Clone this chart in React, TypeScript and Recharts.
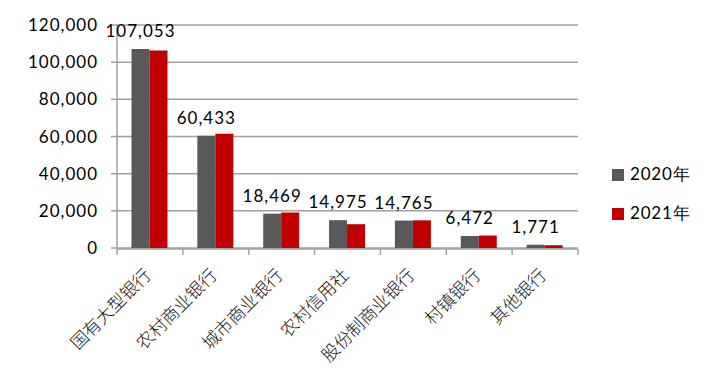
import { Bar, BarChart, CartesianGrid, LabelList, XAxis, YAxis } from "recharts";

const categories = ["国有大型银行", "农村商业银行", "城市商业银行", "农村信用社", "股份制商业银行", "村镇银行", "其他银行"];
const values2020 = [107053, 60433, 18469, 14975, 14765, 6472, 1771];
const values2021 = [106300, 61500, 19100, 12800, 14900, 6700, 1500];
const yTicks = [0, 20000, 40000, 60000, 80000, 100000, 120000];
const separatorTicks = [0, 1, 2, 3, 4, 5, 6, 7];
const seriesNames = ["2020年", "2021年"];

const data = categories.map((name, i) => ({ name, y2020: values2020[i], y2021: values2021[i], idx: i + 0.5 }));

const GRAY = "#595959";
const RED = "#C00000";
const AXIS = "#A0A0A0";
const NUM_FONT = "Lato, 'Open Sans', sans-serif";

function formatThousands(v: number): string {
  return v.toLocaleString("en-US");
}

function CategoryTick({ x, y, payload }: any) {
  const px = x - 3;
  const py = y + 23;
  return (
    <text
      x={px}
      y={py}
      transform={`rotate(-45, ${px}, ${py})`}
      textAnchor="end"
      dominantBaseline="central"
      fontFamily="'Noto Sans CJK SC', sans-serif"
      fontWeight={300}
      fontSize={17.5}
      fill="#111"
    >
      {payload.value}
    </text>
  );
}

function LegendBox() {
  const colors = [GRAY, RED];
  return (
    <div style={{ position: "absolute", left: 612, top: 155, fontFamily: NUM_FONT, fontSize: 17, color: "#000", letterSpacing: 0.8 }}>
      {seriesNames.map((label, i) => (
        <div key={label} style={{ display: "flex", alignItems: "center", height: 39 }}>
          <span style={{ display: "inline-block", width: 12, height: 12, background: colors[i], marginRight: 6 }} />
          <span>{label}</span>
        </div>
      ))}
    </div>
  );
}

export default function App() {
  return (
    <div style={{ position: "absolute", left: 0, top: 0, width: 721, height: 381, background: "#fff" }}>
      <BarChart
        width={721}
        height={381}
        data={data}
        margin={{ top: 25, right: 143, bottom: 131, left: 0 }}
        barCategoryGap="22%"
        barGap={0}
      >
        <CartesianGrid horizontal vertical={false} stroke={AXIS} strokeWidth={1.5} />
        <XAxis
          xAxisId="sep"
          type="number"
          dataKey="idx"
          domain={[0, 7]}
          ticks={separatorTicks}
          height={1}
          axisLine={{ stroke: AXIS, strokeWidth: 1.5 }}
          tickLine={{ stroke: AXIS, strokeWidth: 1.5 }}
          tickSize={6}
          tickFormatter={() => ""}
          allowDataOverflow
        />
        <XAxis
          xAxisId="cat"
          dataKey="name"
          height={1}
          axisLine={false}
          tickLine={false}
          tickSize={0}
          tickMargin={0}
          interval={0}
          tick={<CategoryTick />}
        />
        <YAxis
          domain={[0, 120000]}
          ticks={yTicks}
          width={117}
          tickFormatter={formatThousands}
          axisLine={{ stroke: AXIS, strokeWidth: 1.5 }}
          tickLine={{ stroke: AXIS, strokeWidth: 1.5 }}
          tickSize={6}
          tickMargin={13}
          tick={{ fill: "#000", fontSize: 17, fontFamily: NUM_FONT, letterSpacing: 1 }}
        />
        <Bar xAxisId="cat" dataKey="y2020" name={seriesNames[0]} fill={GRAY} isAnimationActive={false}>
          <LabelList
            dataKey="y2020"
            position="top"
            offset={12}
            formatter={(v: number) => formatThousands(v)}
            style={{ fill: "#000", fontSize: 17, fontFamily: NUM_FONT, letterSpacing: 1 }}
          />
        </Bar>
        <Bar xAxisId="cat" dataKey="y2021" name={seriesNames[1]} fill={RED} isAnimationActive={false} />
      </BarChart>
      <LegendBox />
    </div>
  );
}
